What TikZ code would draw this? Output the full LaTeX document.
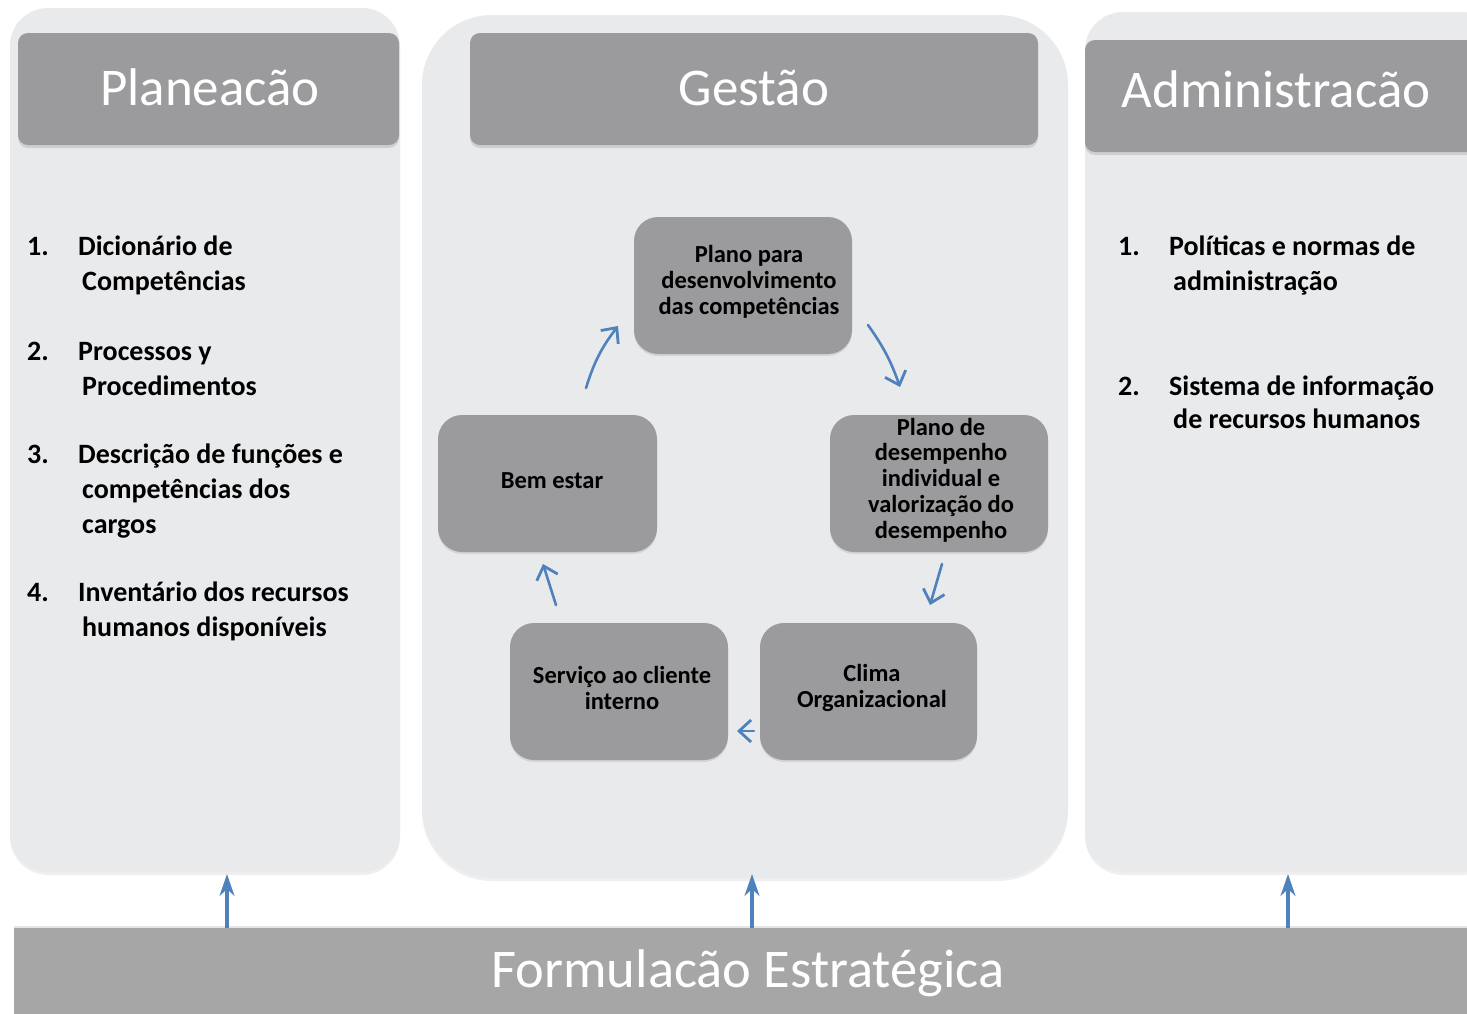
\documentclass[tikz,border=0pt]{standalone}
\usepackage{fontspec}
\setmainfont{Carlito}
\usetikzlibrary{arrows.meta,shadows}
\definecolor{panelbg}{RGB}{233,234,236}
\definecolor{headgrey}{RGB}{155,155,157}
\definecolor{innergrey}{RGB}{155,155,157}
\definecolor{bargrey}{RGB}{166,166,166}
\definecolor{arrowblue}{RGB}{79,129,189}
\tikzset{
  panel/.style={fill=panelbg, draw=none, drop shadow={opacity=0.12, shadow xshift=0pt, shadow yshift=-3pt}},
  header/.style={fill=headgrey, draw=none, rounded corners=10pt, drop shadow={opacity=0.25, shadow xshift=0pt, shadow yshift=-3pt}},
  title/.style={text=white, font=\fontsize{53}{56}\selectfont, anchor=base, inner sep=0pt},
  body/.style={font=\fontsize{28}{30}\selectfont\bfseries, anchor=base west, inner sep=0pt},
  innerbox/.style={fill=innergrey, draw=none, rounded corners=24pt, drop shadow={opacity=0.2, shadow xshift=0pt, shadow yshift=-2pt}},
  innertext/.style={font=\fontsize{24.5}{25.8}\selectfont\bfseries, align=center, inner sep=0pt},
  cyc/.style={draw=arrowblue, line width=2.6pt, line cap=round, -{Straight Barb[length=12pt,width=22pt,line width=2.8pt]}},
  up/.style={draw=arrowblue, line width=3.4pt, -{Stealth[length=22pt,width=15pt]}},
}
\begin{document}
\begin{tikzpicture}[x=1pt,y=-1pt]
\useasboundingbox (0,0) rectangle (1467,1013);
\fill[white] (0,0) rectangle (1467,1013);

% panels
\path[panel, rounded corners=38pt] (10,8) rectangle (400,872);
\path[panel, rounded corners=70pt] (422,15) rectangle (1068,878);
\path[panel, rounded corners=38pt] (1085,12) rectangle (1500,872);

% headers
\path[header] (18,33) rectangle (399,145);
\path[header] (470,33) rectangle (1038,145);
\path[header] (1085,40) rectangle (1480,152);
\node[title] (tplan) at (210,105) {Planeacão};
\node[title] (tgest) at (754,105) {Gestão};
\node[title] (tadm) at (1276,107) {Administracão};

% left list
\node[body] (n1) at (27,255) {1.};
\node[body] (l1a) at (78,255) {Dicionário de};
\node[body] (l1b) at (82,290) {Competências};
\node[body] (n2) at (27,360) {2.};
\node[body] (l2a) at (78,360) {Processos y};
\node[body] (l2b) at (82,395) {Procedimentos};
\node[body] (n3) at (27,463) {3.};
\node[body] (l3a) at (78,463) {Descrição de funções e};
\node[body] (l3b) at (82,498) {competências dos};
\node[body] (l3c) at (82,533) {cargos};
\node[body] (n4) at (27,601) {4.};
\node[body] (l4a) at (78,601) {Inventário dos recursos};
\node[body] (l4b) at (82,636) {humanos disponíveis};

% right list
\node[body] (r1) at (1118,255) {1.};
\node[body] (r1a) at (1169,255) {Políticas e normas de};
\node[body] (r1b) at (1173,290) {administração};
\node[body] (r2) at (1118,395) {2.};
\node[body] (r2a) at (1169,395) {Sistema de informação};
\node[body] (r2b) at (1173,428) {de recursos humanos};

% inner boxes
\path[innerbox] (634,217) rectangle (852,354);
\path[innerbox] (830,415) rectangle (1048,552);
\path[innerbox] (760,623) rectangle (977,760);
\path[innerbox] (510,623) rectangle (728,760);
\path[innerbox] (438,415) rectangle (657,552);
\node[innertext] (b1) at (749,282) {Plano para\\desenvolvimento\\das competências};
\node[innertext] (b2) at (941,480) {Plano de\\desempenho\\individual e\\valorização do\\desempenho};
\node[innertext] (b3) at (872,688) {Clima\\Organizacional};
\node[innertext] (b4) at (622,688) {Serviço ao cliente\\interno};
\node[innertext] (b5) at (552,481) {Bem estar};

% cycle arrows
\coordinate (a1s) at (586,388); \coordinate (a1e) at (618,326);
\coordinate (a2s) at (868,325); \coordinate (a2e) at (900,387);
\coordinate (a3s) at (942,564); \coordinate (a3e) at (930,605);
\coordinate (a4s) at (754,731); \coordinate (a4e) at (737,731);
\coordinate (a5s) at (556,605); \coordinate (a5e) at (543,564);
\draw[cyc] (a1s) to[bend left=10] (a1e);
\draw[cyc] (a2s) to[bend left=8] (a2e);
\draw[cyc] (a3s) -- (a3e);
\draw[cyc] (a4s) -- (a4e);
\draw[cyc] (a5s) -- (a5e);

% bottom bar
\path[fill=bargrey, drop shadow={opacity=0.2, shadow xshift=0pt, shadow yshift=2pt}] (14,928) rectangle (1480,1020);
\node[text=white, font=\fontsize{54.5}{58}\selectfont, anchor=base, inner sep=0pt] (form) at (748,987) {Formulacão Estratégica};

% up arrows
\coordinate (u1s) at (227,928); \coordinate (u1e) at (227,874);
\coordinate (u2s) at (752,928); \coordinate (u2e) at (752,874);
\coordinate (u3s) at (1288,928); \coordinate (u3e) at (1288,874);
\draw[up] (u1s) -- (u1e);
\draw[up] (u2s) -- (u2e);
\draw[up] (u3s) -- (u3e);
\end{tikzpicture}
\end{document}
